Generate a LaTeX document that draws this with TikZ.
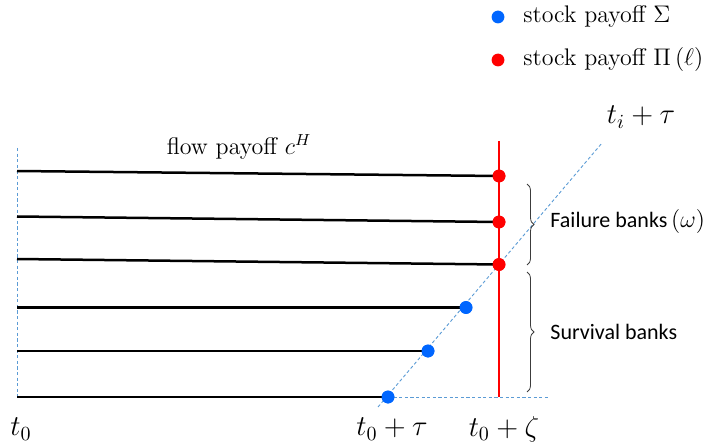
\documentclass[tikz,border=0pt]{standalone}
\usepackage{fontspec}
\newfontfamily\calfont{Carlito}
\usetikzlibrary{decorations.pathreplacing}
\definecolor{dotblue}{RGB}{0,102,255}
\definecolor{dotred}{RGB}{255,0,0}
\definecolor{dashblue}{RGB}{91,155,213}
\definecolor{bracegray}{RGB}{60,60,60}
\tikzset{
  flowline/.style={line width=1.25pt,black},
  bdot/.style={circle,fill=dotblue,inner sep=0pt,minimum size=6.4pt},
  rdot/.style={circle,fill=dotred,inner sep=0pt,minimum size=6.4pt},
  guide/.style={dashblue,line width=0.45pt,dash pattern=on 1.6pt off 1.2pt},
  brk/.style={bracegray,line width=0.4pt,decorate,decoration={brace,amplitude=3.5pt}},
  serif12/.style={font=\fontsize{12}{14}\selectfont},
  mathlbl/.style={font=\fontsize{14.4}{17}\selectfont},
  sanslbl/.style={font=\fontsize{11}{13}\selectfont\calfont,anchor=west,inner sep=0pt},
}
\begin{document}
\begin{tikzpicture}[x=0.5pt,y=-0.5pt]
\useasboundingbox (0,0) rectangle (710,443);
% guides
\coordinate (vtop) at (17,148);
\coordinate (vbot) at (17,398);
\draw[guide] (vtop) -- (vbot);
\coordinate (dlo) at (378,407);
\coordinate (dhi) at (602,143);
\draw[guide] (dlo) -- (dhi);
\coordinate (hend) at (548,397);
% red vertical
\coordinate (rtop) at (499,141);
\coordinate (rbot) at (499,397);
\draw[dotred,line width=1pt] (rtop) -- (rbot);
% left starts
\coordinate (s1) at (17,171);
\coordinate (s2) at (17,216.5);
\coordinate (s3) at (17,259);
\coordinate (s4) at (17,307.5);
\coordinate (s5) at (17,351);
\coordinate (s6) at (17,397);
% dots
\node[rdot] (r1) at (499,176) {};
\node[rdot] (r2) at (499,222) {};
\node[rdot] (r3) at (499,264.5) {};
\node[bdot] (b1) at (466,307.5) {};
\node[bdot] (b2) at (428,351) {};
\node[bdot] (b3) at (388,397) {};
\draw[guide] (b3.center) -- (hend);
\draw[flowline] (s1) -- (r1.center);
\draw[flowline] (s2) -- (r2.center);
\draw[flowline] (s3) -- (r3.center);
\draw[flowline] (s4) -- (b1.center);
\draw[flowline] (s5) -- (b2.center);
\draw[flowline] (s6) -- (b3.center);
\node[rdot] at (r1) {};
\node[rdot] at (r2) {};
\node[rdot] at (r3) {};
\node[bdot] at (b1) {};
\node[bdot] at (b2) {};
\node[bdot] at (b3) {};
% braces
\coordinate (fb1) at (527,184);
\coordinate (fb2) at (527,265);
\draw[brk] (fb1) -- (fb2);
\coordinate (sb1) at (527,272);
\coordinate (sb2) at (527,392);
\draw[brk] (sb1) -- (sb2);
\node[sanslbl] (fail) at (550,221) {Failure banks\,{\fontsize{12}{14}\selectfont$\left(\omega\right)$}};
\node[sanslbl] (surv) at (550,332) {Survival banks};
% labels
\node[serif12] (flow) at (239,147) {flow payoff $c^H$};
\node[mathlbl] (tit) at (641,117) {$t_i+\tau$};
\node[mathlbl] (t0) at (21,429) {$t_0$};
\node[mathlbl] (t0t) at (392,429) {$t_0+\tau$};
\node[mathlbl] (t0z) at (504,429) {$t_0+\zeta$};
% legend
\node[bdot] (lb) at (498,17) {};
\node[rdot] (lr) at (498,60) {};
\node[serif12,anchor=west,inner sep=0pt] (lbt) at (523,17) {stock payoff $\Sigma$};
\node[serif12,anchor=west,inner sep=0pt] (lrt) at (523,60) {stock payoff $\Pi\left(\ell\right)$};
\end{tikzpicture}
\end{document}
